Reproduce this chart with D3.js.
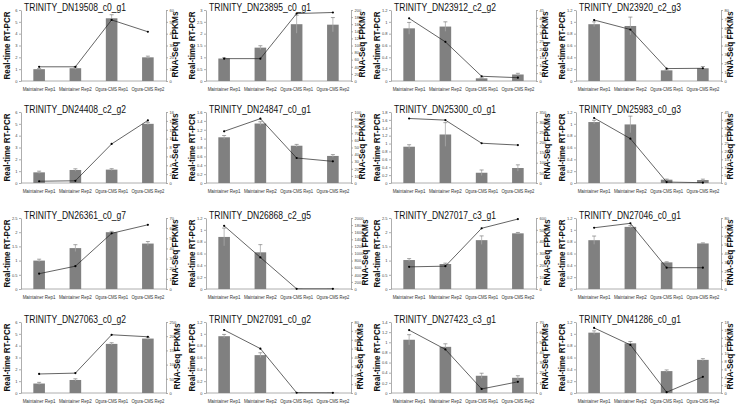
<!DOCTYPE html>
<html>
<head>
<meta charset="utf-8">
<script src="https://cdn.jsdelivr.net/npm/d3@7"></script>
<style>
  body { margin: 0; background: #fff; }
  text { font-family: 'Liberation Sans', Arial, sans-serif; }
  .ax path, .ax line { stroke: #999; stroke-width: 0.8; }
  .ax text { font-size: 4px; fill: #444; }
</style>
</head>
<body>
<script>
// categories on the x axis
var categories = ['Maintainer Rep1', 'Maintainer Rep2', 'Ogura-CMS Rep1', 'Ogura-CMS Rep2'];

// panel titles, row by row
var genes = [
  'TRINITY_DN19508_c0_g1', 'TRINITY_DN23895_c0_g1', 'TRINITY_DN23912_c2_g2', 'TRINITY_DN23920_c2_g3',
  'TRINITY_DN24408_c2_g2', 'TRINITY_DN24847_c0_g1', 'TRINITY_DN25300_c0_g1', 'TRINITY_DN25983_c0_g3',
  'TRINITY_DN26361_c0_g7', 'TRINITY_DN26868_c2_g5', 'TRINITY_DN27017_c3_g1', 'TRINITY_DN27046_c0_g1',
  'TRINITY_DN27063_c0_g2', 'TRINITY_DN27091_c0_g2', 'TRINITY_DN27423_c3_g1', 'TRINITY_DN41286_c0_g1'
];

// real-time RT-PCR (bars)
var qpcr = [
  [1.0, 1.08, 5.3, 2.0], [0.95, 1.41, 2.4, 2.38], [0.89, 0.92, 0.045, 0.11], [0.96, 0.93, 0.18, 0.215],
  [0.9, 1.1, 1.13, 5.0], [1.03, 1.34, 0.84, 0.61], [0.92, 1.23, 0.26, 0.38], [1.03, 0.99, 0.056, 0.05],
  [1.0, 1.44, 2.0, 1.6], [0.88, 0.62, 0.003, 0.002], [1.02, 0.88, 1.72, 1.96], [0.825, 1.05, 0.45, 0.77],
  [0.8, 1.1, 4.15, 4.6], [0.96, 0.64, 0.004, 0.003], [1.05, 0.91, 0.34, 0.3], [1.02, 0.84, 0.37, 0.56]
];
var qpcrErr = [
  [0.05, 0.1, 0.3, 0.1], [0.03, 0.08, 0.38, 0.3], [0.1, 0.08, 0.01, 0.02], [0.04, 0.15, 0.01, 0.03],
  [0.1, 0.1, 0.08, 0.1], [0.04, 0.04, 0.03, 0.03], [0.05, 0.3, 0.07, 0.08], [0.03, 0.14, 0.01, 0.015],
  [0.05, 0.12, 0.03, 0.07], [0.15, 0.13, 0, 0], [0.05, 0.03, 0.15, 0.03], [0.07, 0.02, 0.01, 0.01],
  [0.1, 0.1, 0.1, 0.1], [0.03, 0.04, 0, 0], [0.1, 0.06, 0.05, 0.04], [0.03, 0.03, 0.02, 0.02]
];

// RNA-Seq FPKMs (line)
var fpkm = [
  [12, 12, 51.6, 41.6], [63, 63, 190, 193], [39.7, 24.8, 3, 2.1], [68.7, 58, 14, 14.3],
  [0.4, 0.5, 8.8, 14.1], [72.8, 90.6, 35.2, 30.5], [318, 310, 196, 187], [41.2, 28.1, 0.6, 0.2],
  [15.1, 22.5, 54.9, 63.3], [1779, 890, 5, 5], [187, 193, 513, 591], [69, 74, 24, 24],
  [67, 70, 205, 198], [71, 50, 0.3, 0.2], [62, 43, 4, 11], [16.5, 12.2, 0.2, 4.1]
];

// axis ranges
var leftMax = [6, 3, 1.2, 1.2, 6, 1.6, 1.8, 1.2, 2.5, 1.2, 2.5, 1.2, 6, 1.2, 1.4, 1.2];
var leftStep = [1, 0.5, 0.2, 0.2, 1, 0.2, 0.2, 0.2, 0.5, 0.2, 0.5, 0.2, 1, 0.2, 0.2, 0.2];
var rightMax = [60, 200, 45, 80, 16, 100, 350, 45, 70, 2000, 600, 80, 250, 80, 70, 18];
var rightStep = [10, 20, 5, 10, 2, 10, 50, 5, 10, 200, 100, 10, 50, 10, 10, 2];

var W = 740, H = 406;
var colX = [0, 185, 370, 555];
var rowY = [0, 102, 208, 312];
var axL = 21, axR = 166, plotTop = 10, plotBot = 81;

var svg = d3.select('body').append('svg')
  .attr('width', W).attr('height', H);

var fmt = d => String(+d.toFixed(3));

genes.forEach(function(g, i) {
  var p = svg.append('g')
    .attr('transform', `translate(${colX[i % 4]}, ${rowY[Math.floor(i / 4)]})`);

  var x = d3.scaleBand().domain(categories).range([axL, axR]);
  var y = d3.scaleLinear().domain([0, leftMax[i]]).range([plotBot, plotTop]);
  var y2 = d3.scaleLinear().domain([0, rightMax[i]]).range([plotBot, plotTop]);
  var bw = x.step() * 0.32;
  var cx = c => x(c) + x.bandwidth() / 2;

  // axes
  p.append('g').attr('class', 'ax')
    .attr('transform', `translate(${axL},0)`)
    .call(d3.axisLeft(y)
      .tickValues(d3.range(0, leftMax[i] + leftStep[i] / 2, leftStep[i]))
      .tickSize(2).tickSizeOuter(0).tickPadding(1.5).tickFormat(fmt));

  p.append('g').attr('class', 'ax')
    .attr('transform', `translate(${axR},0)`)
    .call(d3.axisRight(y2)
      .tickValues(d3.range(0, rightMax[i] + rightStep[i] / 2, rightStep[i]))
      .tickSize(2).tickSizeOuter(0).tickPadding(1.5).tickFormat(fmt));

  p.append('line')
    .attr('x1', axL).attr('x2', axR).attr('y1', plotBot).attr('y2', plotBot)
    .attr('stroke', '#999').attr('stroke-width', 0.8);

  // bars
  p.selectAll('rect.bar')
    .data(categories)
    .enter().append('rect')
    .attr('class', 'bar')
    .attr('x', c => cx(c) - bw / 2)
    .attr('width', bw)
    .attr('y', (c, j) => y(qpcr[i][j]))
    .attr('height', (c, j) => plotBot - y(qpcr[i][j]))
    .attr('fill', '#808080');

  // error bars
  var eb = p.selectAll('g.err')
    .data(categories)
    .enter().append('g')
    .attr('class', 'err')
    .filter((c, j) => qpcrErr[i][j] > 0);
  eb.append('line')
    .attr('x1', cx).attr('x2', cx)
    .attr('y1', (c, j) => y(qpcr[i][j] + qpcrErr[i][j]))
    .attr('y2', (c, j) => y(Math.max(0, qpcr[i][j] - qpcrErr[i][j])))
    .attr('stroke', '#aaa').attr('stroke-width', 0.8);
  eb.append('line')
    .attr('x1', c => cx(c) - 2).attr('x2', c => cx(c) + 2)
    .attr('y1', (c, j) => y(qpcr[i][j] + qpcrErr[i][j]))
    .attr('y2', (c, j) => y(qpcr[i][j] + qpcrErr[i][j]))
    .attr('stroke', '#666').attr('stroke-width', 0.6);

  // FPKM line
  var line = d3.line()
    .x((v, j) => cx(categories[j]))
    .y(v => y2(v));
  p.append('path')
    .datum(fpkm[i])
    .attr('d', line)
    .attr('fill', 'none')
    .attr('stroke', '#222')
    .attr('stroke-width', 0.7);
  p.selectAll('circle')
    .data(fpkm[i])
    .enter().append('circle')
    .attr('cx', (v, j) => cx(categories[j]))
    .attr('cy', v => y2(v))
    .attr('r', 1.1)
    .attr('fill', '#000');

  // x labels
  p.selectAll('text.xl')
    .data(categories)
    .enter().append('text')
    .attr('class', 'xl')
    .attr('x', cx)
    .attr('y', 91)
    .attr('text-anchor', 'middle')
    .attr('font-size', 4.8)
    .attr('textLength', 33)
    .attr('lengthAdjust', 'spacingAndGlyphs')
    .attr('fill', '#333')
    .text(c => c);

  // title
  p.append('text')
    .attr('x', 24).attr('y', 11)
    .attr('font-size', 10.5)
    .attr('textLength', 102)
    .attr('lengthAdjust', 'spacingAndGlyphs')
    .attr('fill', '#111')
    .text(g);

  // axis titles
  p.append('text')
    .attr('transform', `translate(10, ${(plotTop + plotBot) / 2}) rotate(-90)`)
    .attr('text-anchor', 'middle')
    .attr('font-size', 9.5)
    .attr('font-weight', 'bold')
    .attr('textLength', 68)
    .attr('lengthAdjust', 'spacingAndGlyphs')
    .attr('fill', '#111')
    .text('Real-time RT-PCR');

  // right title sits just past the widest tick label
  var rx = axR + 7 + 2.4 * fmt(rightMax[i]).length;
  p.append('text')
    .attr('transform', `translate(${rx}, ${(plotTop + plotBot) / 2 - 1}) rotate(-90)`)
    .attr('text-anchor', 'middle')
    .attr('font-size', 9)
    .attr('font-weight', 'bold')
    .attr('textLength', 66)
    .attr('lengthAdjust', 'spacingAndGlyphs')
    .attr('fill', '#111')
    .text('RNA-Seq FPKMs');
});
</script>
</body>
</html>
